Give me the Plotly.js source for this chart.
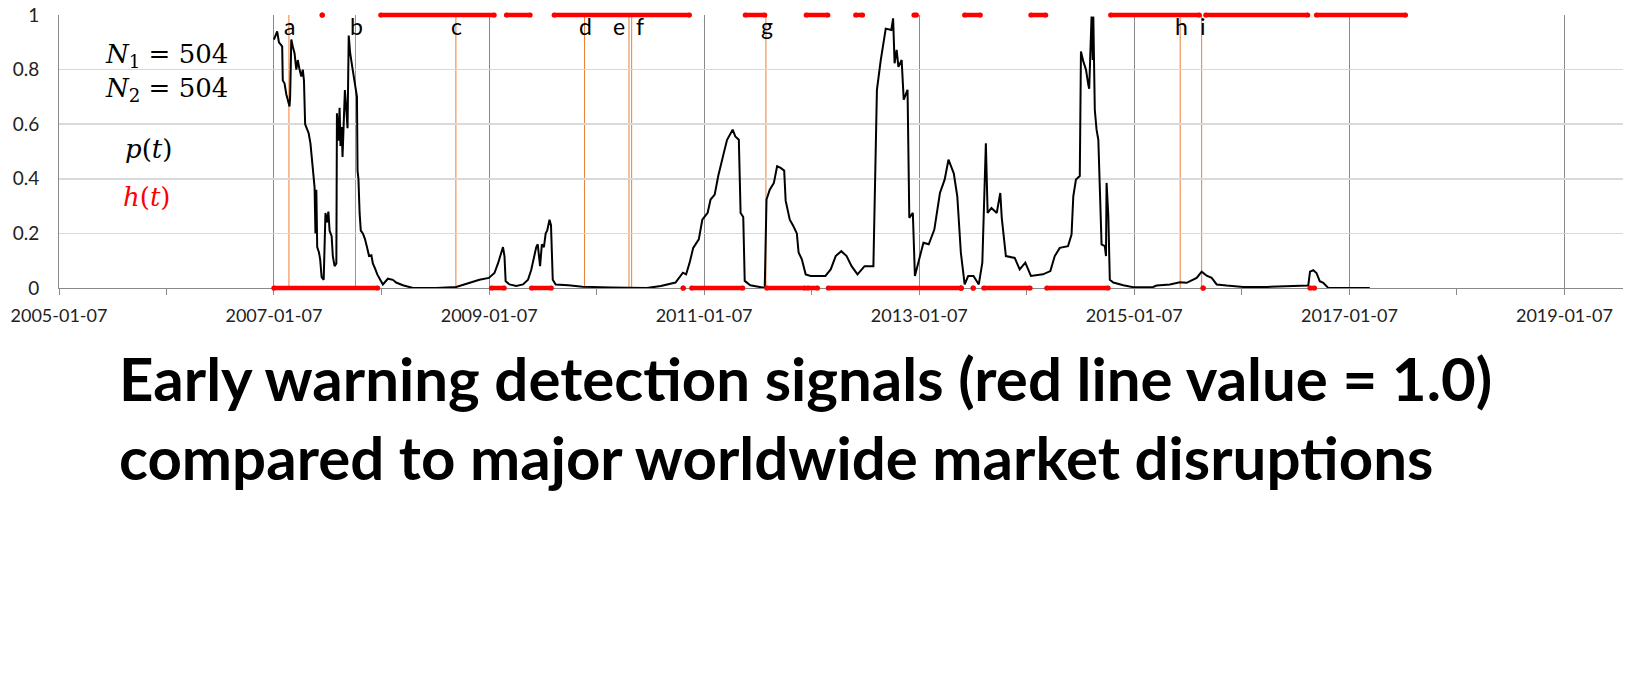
<!DOCTYPE html>
<html><head><meta charset="utf-8">
<script src="https://cdn.plot.ly/plotly-3.0.1.min.js"></script>
<style>html,body{margin:0;padding:0;background:#fff}#chart{width:1650px;height:700px}</style>
</head><body><div id="chart"></div>
<script>
// ---- data ----
const pDates = ['2007-01-07','2007-01-18','2007-01-24','2007-01-30','2007-02-04','2007-02-06','2007-02-12','2007-02-18','2007-02-23','2007-03-01','2007-03-03','2007-03-07','2007-03-12','2007-03-18','2007-03-24','2007-03-29','2007-04-04','2007-04-10','2007-04-15','2007-04-19','2007-04-23','2007-04-29','2007-05-05','2007-05-11','2007-05-19','2007-05-25','2007-05-28','2007-05-31','2007-06-03','2007-06-09','2007-06-13','2007-06-18','2007-06-25','2007-07-01','2007-07-06','2007-07-11','2007-07-15','2007-07-22','2007-07-26','2007-08-01','2007-08-07','2007-08-09','2007-08-14','2007-08-18','2007-08-21','2007-08-25','2007-08-28','2007-09-02','2007-09-05','2007-09-10','2007-09-14','2007-09-18','2007-09-23','2007-09-30','2007-10-07','2007-10-11','2007-10-16','2007-10-18','2007-10-21','2007-10-25','2007-10-29','2007-11-05','2007-11-12','2007-11-19','2007-11-26','2007-12-04','2007-12-09','2007-12-17','2007-12-24','2008-01-03','2008-01-12','2008-01-29','2008-02-15','2008-02-26','2008-03-20','2008-04-23','2008-07-11','2008-09-17','2008-11-01','2008-12-05','2009-01-06','2009-01-25','2009-02-06','2009-02-17','2009-02-23','2009-02-28','2009-03-04','2009-03-17','2009-04-09','2009-05-02','2009-05-19','2009-05-30','2009-06-10','2009-06-16','2009-06-21','2009-06-29','2009-07-05','2009-07-12','2009-07-18','2009-07-23','2009-07-31','2009-08-05','2009-08-11','2009-08-21','2009-10-03','2009-11-20','2010-02-24','2010-06-26','2010-08-13','2010-10-02','2010-10-27','2010-11-07','2010-11-19','2010-12-01','2010-12-20','2011-01-01','2011-01-19','2011-01-29','2011-02-12','2011-02-24','2011-03-15','2011-03-26','2011-04-14','2011-04-23','2011-05-05','2011-05-11','2011-05-20','2011-05-25','2011-06-13','2011-08-01','2011-08-07','2011-08-18','2011-09-01','2011-09-12','2011-09-24','2011-10-06','2011-10-11','2011-10-25','2011-11-06','2011-11-18','2011-11-24','2011-12-05','2011-12-18','2012-01-04','2012-02-23','2012-03-12','2012-03-29','2012-04-17','2012-05-05','2012-05-22','2012-06-11','2012-07-05','2012-08-04','2012-08-10','2012-08-16','2012-08-29','2012-09-15','2012-10-04','2012-10-10','2012-10-15','2012-10-22','2012-10-28','2012-11-08','2012-11-15','2012-11-28','2012-12-04','2012-12-16','2012-12-23','2013-01-03','2013-01-21','2013-02-08','2013-02-27','2013-03-18','2013-04-03','2013-04-16','2013-05-04','2013-05-16','2013-05-28','2013-06-10','2013-06-22','2013-07-10','2013-07-28','2013-08-09','2013-08-15','2013-08-21','2013-08-27','2013-09-09','2013-09-27','2013-10-09','2013-10-14','2013-10-28','2013-11-27','2013-12-14','2014-01-02','2014-01-21','2014-03-03','2014-03-28','2014-04-12','2014-04-29','2014-05-27','2014-06-08','2014-06-14','2014-06-23','2014-07-06','2014-07-10','2014-07-18','2014-07-27','2014-08-04','2014-08-07','2014-08-12','2014-08-15','2014-08-19','2014-08-21','2014-08-26','2014-09-01','2014-09-07','2014-09-12','2014-09-18','2014-09-29','2014-10-03','2014-10-05','2014-10-11','2014-10-16','2014-10-28','2014-12-01','2015-01-03','2015-03-12','2015-03-24','2015-05-08','2015-06-11','2015-07-04','2015-08-07','2015-08-24','2015-09-10','2015-09-27','2015-10-14','2015-11-17','2016-01-12','2016-03-31','2016-07-11','2016-08-20','2016-08-26','2016-09-06','2016-09-17','2016-09-28','2016-10-10','2016-10-27','2017-03-17'];
const pValues = [0.91,0.94,0.90,0.89,0.885,0.76,0.75,0.71,0.69,0.665,0.70,0.91,0.885,0.86,0.80,0.835,0.80,0.775,0.80,0.76,0.60,0.58,0.567,0.53,0.445,0.37,0.20,0.36,0.15,0.13,0.105,0.04,0.03,0.275,0.24,0.28,0.21,0.19,0.117,0.08,0.09,0.64,0.54,0.66,0.52,0.59,0.48,0.68,0.725,0.65,0.585,0.925,0.86,0.81,0.76,0.725,0.70,0.43,0.40,0.275,0.21,0.20,0.18,0.15,0.117,0.12,0.09,0.07,0.05,0.03,0.013,0.034,0.03,0.02,0.01,0.0,0.0,0.004,0.02,0.03,0.037,0.055,0.09,0.13,0.15,0.117,0.025,0.013,0.007,0.013,0.03,0.067,0.117,0.15,0.16,0.08,0.16,0.15,0.20,0.21,0.25,0.23,0.03,0.013,0.01,0.005,0.002,0.0,0.007,0.02,0.056,0.05,0.093,0.147,0.178,0.25,0.275,0.324,0.342,0.41,0.495,0.543,0.58,0.555,0.543,0.275,0.26,0.026,0.01,0.0,0.324,0.36,0.385,0.446,0.44,0.43,0.32,0.25,0.227,0.2,0.13,0.105,0.05,0.044,0.044,0.068,0.117,0.135,0.117,0.08,0.05,0.08,0.08,0.47,0.726,0.835,0.95,0.945,0.988,0.823,0.872,0.81,0.835,0.69,0.726,0.257,0.275,0.044,0.093,0.166,0.16,0.214,0.348,0.397,0.47,0.42,0.336,0.13,0.013,0.044,0.044,0.013,0.093,0.30,0.53,0.275,0.293,0.275,0.348,0.257,0.117,0.11,0.068,0.093,0.044,0.05,0.062,0.117,0.147,0.153,0.196,0.336,0.397,0.41,0.866,0.83,0.80,0.744,0.73,0.897,0.994,0.835,0.994,0.653,0.58,0.543,0.385,0.16,0.153,0.117,0.385,0.263,0.03,0.02,0.01,0.003,0.004,0.009,0.013,0.021,0.019,0.037,0.06,0.045,0.037,0.013,0.009,0.004,0.004,0.009,0.009,0.06,0.065,0.055,0.025,0.019,0.0,0.0];

// h(t): runs of constant value (start date, end date, value)
const hStart = ['2007-01-07','2007-06-20','2008-01-05','2009-01-15','2009-03-07','2009-05-31','2009-08-16','2010-10-28','2010-11-26','2011-05-27','2011-08-08','2011-12-20','2011-12-25','2012-03-04','2012-06-05','2012-12-20','2013-05-29','2013-06-10','2013-07-09','2013-08-14','2014-01-21','2014-03-16','2014-10-19','2015-08-29','2015-09-07','2016-08-26','2016-09-17'];
const hEnd   = ['2007-12-25','2007-06-20','2009-01-24','2009-02-27','2009-05-26','2009-08-06','2010-11-18','2010-10-28','2011-05-18','2011-08-01','2011-12-15','2012-03-02','2012-01-27','2013-05-29','2012-06-28','2012-12-28','2013-05-29','2013-08-02','2013-07-09','2014-01-18','2014-03-12','2014-10-10','2015-08-16','2015-08-29','2016-08-18','2016-09-10','2017-07-16'];
const hValue = [0,1,1,0,1,0,1,0,0,1,0,1,0,0,1,1,0,1,0,0,1,0,1,0,1,0,1];

// market disruptions
const eventDates  = ['2007-02-27','2007-10-11','2008-09-16','2009-11-27','2010-04-27','2010-05-06','2011-08-05','2015-06-12','2015-08-24'];
const eventLabels = ['a','b','c','d','e','f','g','h','i'];

const xRange = ['2005-01-07','2019-07-25'];
const tickStart = '2005-01-07';
const yTicks = [0,0.2,0.4,0.6,0.8,1];

const titleLines = ['Early warning detection signals (red line value = 1.0)','compared to major worldwide market disruptions'];

// ---- build figure ----
const RED = '#ff0000', ORANGE = '#ED7D31', GRID_V = '#8a8a8a', GRID_H = '#d9d9d9';
const labelShift = {e:-10, f:8};

const traces = [{
  x: pDates, y: pValues, type:'scatter', mode:'lines',
  line:{color:'#000', width:2}, hoverinfo:'skip', showlegend:false
}];

const shapes = [];
eventDates.forEach(d => shapes.push({type:'line', xref:'x', yref:'paper', x0:d, x1:d, y0:0, y1:1, layer:'below', line:{color:ORANGE, width:1}}));
for (let i = 0; i < hStart.length; i++) {
  const v = hValue[i];
  shapes.push({type:'line', xref:'x', yref:'paper', x0:hStart[i], x1:hEnd[i], y0:v, y1:v, layer:'above', line:{color:RED, width:4.5}});
  [hStart[i], hEnd[i]].forEach(d => shapes.push({type:'circle', xref:'x', yref:'paper', xsizemode:'pixel', ysizemode:'pixel', xanchor:d, yanchor:v, x0:-2.6, x1:2.6, y0:-2.6, y1:2.6, layer:'above', fillcolor:RED, line:{width:0}}));
}

const PL = 59, PR = 27, PT = 15, PB = 411.5, W = 1650, H = 700;
const px2x = px => (px - PL) / (W - PL - PR);
const px2y = py => 1 - (py - PT) / (H - PT - PB);

const annotations = eventDates.map((d, i) => ({
  x:d, xref:'x', y:px2y(26), yref:'paper', text:eventLabels[i], showarrow:false,
  xanchor:'center', yanchor:'middle', xshift:(labelShift[eventLabels[i]] || 1),
  font:{family:'Lato', size:23, color:'#000'}
}));
const mathFont = {family:'DejaVu Serif', size:26, color:'#000'};
annotations.push(
  {x:px2x(103), y:px2y(56), xref:'paper', yref:'paper', xanchor:'left', yanchor:'middle', showarrow:false, text:'<i>N</i><sub>1</sub> = 504', font:mathFont},
  {x:px2x(103), y:px2y(90), xref:'paper', yref:'paper', xanchor:'left', yanchor:'middle', showarrow:false, text:'<i>N</i><sub>2</sub> = 504', font:mathFont},
  {x:px2x(123), y:px2y(149), xref:'paper', yref:'paper', xanchor:'left', yanchor:'middle', showarrow:false, text:'<i>p</i>(<i>t</i>)', font:mathFont},
  {x:px2x(121), y:px2y(197), xref:'paper', yref:'paper', xanchor:'left', yanchor:'middle', showarrow:false, text:'<i>h</i>(<i>t</i>)', font:Object.assign({}, mathFont, {color:RED})}
);
const titleFont = {family:'Lato', size:60, weight:700, color:'#000'};
annotations.push(
  {x:px2x(117), y:px2y(379), xref:'paper', yref:'paper', xanchor:'left', yanchor:'middle', showarrow:false, text:titleLines[0], font:titleFont},
  {x:px2x(117), y:px2y(458), xref:'paper', yref:'paper', xanchor:'left', yanchor:'middle', showarrow:false, text:titleLines[1], font:titleFont}
);

const layout = {
  width:W, height:H,
  margin:{l:PL, r:PR, t:PT, b:PB, pad:0},
  paper_bgcolor:'#fff', plot_bgcolor:'#fff', showlegend:false,
  font:{family:'Lato, sans-serif', color:'#222'},
  xaxis:{type:'date', range:xRange, tick0:tickStart, dtick:'M24', tickformat:'%Y-%m-%d',
         ticks:'outside', ticklen:6, tickcolor:GRID_V, tickwidth:1,
         showgrid:true, gridcolor:GRID_V, gridwidth:1,
         showline:true, linecolor:GRID_V, linewidth:1, zeroline:false,
         tickfont:{family:'Lato', size:18, color:'#222'}, ticklabelstandoff:5,
         minor:{tick0:tickStart, dtick:'M12', ticks:'outside', ticklen:6, tickcolor:GRID_V, showgrid:false},
         fixedrange:true},
  yaxis:{range:[0,1], tickmode:'array', tickvals:yTicks, ticktext:yTicks.map(String),
         showgrid:true, gridcolor:GRID_H, gridwidth:1.5,
         showline:true, linecolor:GRID_V, linewidth:1, zeroline:false, ticks:'',
         tickfont:{family:'Lato', size:19, color:'#222'}, ticklabelstandoff:15, fixedrange:true},
  shapes:shapes, annotations:annotations
};

Plotly.newPlot('chart', traces, layout, {staticPlot:true, displayModeBar:false});
</script></body></html>
